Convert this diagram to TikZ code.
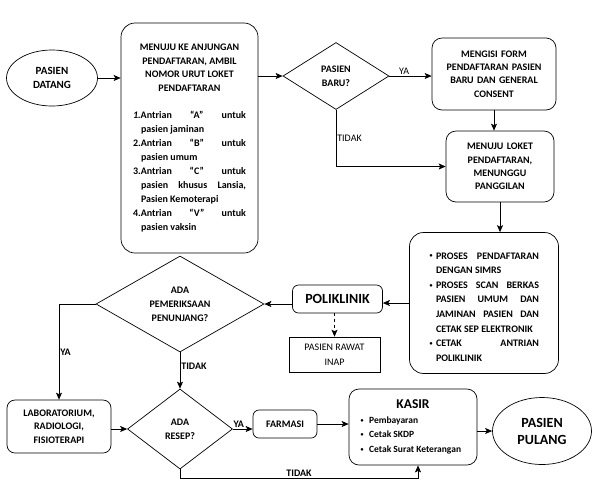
\documentclass[tikz,border=0pt]{standalone}
\usepackage{fontspec}
\setmainfont{Carlito}
\usetikzlibrary{shapes.geometric,positioning,arrows.meta}

\hyphenpenalty=10000
\tolerance=9999
\newcommand{\hangitem}{\par\noindent\hangindent=8pt\hangafter=1 }
\newcommand{\smbullet}{\raisebox{1.2pt}{\fontsize{6}{6}\selectfont\textbullet}}
\newcommand{\bulitem}[1][7pt]{\par\noindent\hangindent=#1\hangafter=0\llap{\smbullet\hspace{3.5pt}}}

\tikzset{
  box/.style={draw, rounded corners=#1, align=center, inner sep=2pt,
    font=\bfseries\fontsize{10}{13.4}\selectfont},
  box/.default=8pt,
  ellip/.style={draw, ellipse, align=center, inner sep=0pt},
  decide/.style={draw, diamond, align=center, inner sep=0pt,
    font=\bfseries\fontsize{10}{14}\selectfont},
  plain/.style={draw, align=center, inner sep=2pt, font=\fontsize{10}{15}\selectfont},
  lbl/.style={inner sep=1pt, font=\fontsize{10}{12}\selectfont},
  lblb/.style={inner sep=1pt, font=\bfseries\fontsize{10}{12}\selectfont}
}

\begin{document}
\begin{tikzpicture}[x=1pt,y=-1pt,line width=0.7pt,>={Stealth[length=7pt,width=6pt,inset=1.5pt]}]
  \useasboundingbox (0,0) rectangle (596,491);

  % baris atas
  \node [ellip, minimum width=91, minimum height=56,
    font=\bfseries\fontsize{11}{13.4}\selectfont] (datang) at (52,78) {PASIEN\\DATANG};
  \node [box=14pt, minimum width=137, minimum height=230, text width=113,
    align=justify] (antri) at (189.5,138) {%
    {\centering MENUJU KE ANJUNGAN\\PENDAFTARAN, AMBIL\\NOMOR URUT LOKET\\PENDAFTARAN\par}
    \vspace{13pt}\fontsize{10}{14}\selectfont
    \hangitem\textit{1.}Antrian “A” untuk\linebreak pasien jaminan
    \hangitem 2.Antrian “B” untuk\linebreak pasien umum
    \hangitem 3.Antrian “C” untuk\linebreak pasien khusus Lansia,\linebreak Pasien Kemoterapi
    \hangitem 4.Antrian “V” untuk\linebreak pasien vaksin\par};
  \node [decide, minimum width=106, minimum height=67] (baru) at (336,76) {PASIEN\\BARU?};
  \node [box=10pt, minimum width=124, minimum height=72, text width=110] (form) at (494,74)
    {MENGISI FORM\\PENDAFTARAN PASIEN\\BARU DAN GENERAL\\CONSENT};
  \node [box=10pt, minimum width=108, minimum height=71, text width=100] (loket) at (500,166.5)
    {MENUJU LOKET\\PENDAFTARAN,\\MENUNGGU\\PANGGILAN};

  % baris tengah
  \node [box=14pt, minimum width=149, minimum height=141, text width=110,
    align=justify, font=\bfseries\fontsize{10}{14.6}\selectfont] (proses) at (484,303) {%
    \bulitem PROSES PENDAFTARAN\linebreak DENGAN SIMRS
    \bulitem PROSES SCAN BERKAS\linebreak PASIEN UMUM DAN\linebreak JAMINAN PASIEN DAN\linebreak CETAK SEP ELEKTRONIK
    \bulitem CETAK ANTRIAN\linebreak POLIKLINIK\par};
  \node [box=6pt, minimum width=90, minimum height=28,
    font=\bfseries\fontsize{14}{16}\selectfont] (poli) at (337.5,299) {POLIKLINIK};
  \node [plain, minimum width=91, minimum height=35] (rawat) at (334.5,354.5) {PASIEN RAWAT\\INAP};
  \node [decide, minimum width=168, minimum height=96] (penunjang) at (180,304)
    {ADA\\PEMERIKSAAN\\PENUNJANG?};

  % baris bawah
  \node [box=8pt, minimum width=104, minimum height=53] (lab) at (59,426.5)
    {LABORATORIUM,\\RADIOLOGI,\\FISIOTERAPI};
  \node [decide, minimum width=105, minimum height=80] (resep) at (180,429) {ADA\\RESEP?};
  \node [box=6pt, minimum width=64, minimum height=28] (farmasi) at (285,424) {FARMASI};
  \node [box=10pt, minimum width=128, minimum height=76, text width=104,
    align=justify] (kasir) at (413,427) {%
    {\centering\fontsize{13.5}{16}\selectfont KASIR\par}
    \fontsize{9.5}{14.5}\selectfont
    \bulitem[6pt] Pembayaran
    \bulitem[6pt] Cetak SKDP
    \bulitem[6pt] Cetak Surat Keterangan\par};
  \node [ellip, minimum width=99, minimum height=67,
    font=\bfseries\fontsize{14}{17}\selectfont] (pulang) at (542,431) {PASIEN\\PULANG};

  % panah
  \draw [->] (datang.east) -- (datang.east -| antri.west);
  \draw [->] (antri.east |- baru.west) -- (baru.west);
  \draw [->] (baru.east) -- node [lbl, above, pos=0.35] (ya1) {YA} (baru.east -| form.west);
  \draw [->] (form.south) -- (form.south |- loket.north);
  \draw [->] (baru.south) |- node [lbl, anchor=west, pos=0.25] (tidak1) {TIDAK} (loket.west);
  \draw [->] (loket.south) -- (loket.south |- proses.north);
  \draw [->] (proses.west) -- (proses.west -| poli.east);
  \draw [->] (poli.west |- penunjang.east) -- (penunjang.east);
  \draw [->,dashed] (rawat.north |- poli.south) -- (rawat.north);
  \draw [->] (penunjang.west) -| node [lblb, anchor=west, pos=0.75] (ya2) {YA} (lab.north);
  \draw [->] (penunjang.south) -- node [lblb, anchor=west, pos=0.38] (tidak2) {TIDAK} (resep.north);
  \draw [->] (lab.east |- resep.west) -- (resep.west);
  \draw [->] (resep.east) -- node [lblb, above, pos=0.3] (ya3) {YA} (resep.east -| farmasi.west);
  \draw [->] (farmasi.east) -- (farmasi.east -| kasir.west);
  \draw [->] (kasir.east |- pulang.west) -- (pulang.west);
  \coordinate (tidakbawah) at (418,478);
  \draw [->] (resep.south) |- node [lblb, above, pos=0.75] (tidak3) {TIDAK} (tidakbawah)
    -- (tidakbawah |- kasir.south);
\end{tikzpicture}
\end{document}
